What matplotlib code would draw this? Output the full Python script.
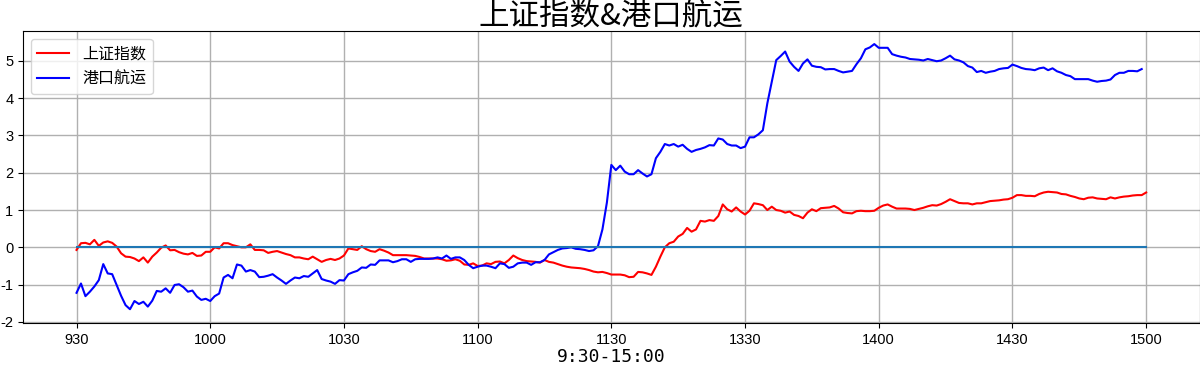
import numpy as np
import matplotlib
matplotlib.use("Agg")
import matplotlib.pyplot as plt

plt.rcParams['font.family'] = ['Noto Sans CJK SC', 'DejaVu Sans']
plt.rcParams['axes.unicode_minus'] = False

title = "上证指数&港口航运"
xlabel = "9:30-15:00"
series_names = ["上证指数", "港口航运"]
tick_labels = ["930", "1000", "1030", "1100", "1130", "1330", "1400", "1430", "1500"]

# 上证指数 (%), one value per minute, 241 points
sh_index = [
    -0.07, 0.11, 0.12, 0.08, 0.20, 0.04, 0.13, 0.16, 0.12, 0.02,
    -0.16, -0.25, -0.26, -0.30, -0.37, -0.27, -0.41, -0.25, -0.14, -0.01,
    0.05, -0.08, -0.07, -0.13, -0.17, -0.19, -0.15, -0.23, -0.22, -0.12,
    -0.12, 0.00, -0.03, 0.11, 0.11, 0.06, 0.03, 0.00, 0.00, 0.08,
    -0.07, -0.07, -0.08, -0.15, -0.12, -0.10, -0.14, -0.18, -0.21, -0.27,
    -0.27, -0.30, -0.32, -0.25, -0.32, -0.39, -0.34, -0.31, -0.34, -0.30,
    -0.22, -0.03, -0.05, -0.07, 0.03, -0.05, -0.10, -0.12, -0.05, -0.09,
    -0.14, -0.21, -0.21, -0.21, -0.21, -0.22, -0.23, -0.26, -0.30, -0.30,
    -0.30, -0.30, -0.32, -0.36, -0.35, -0.32, -0.36, -0.46, -0.47, -0.43,
    -0.50, -0.49, -0.43, -0.45, -0.39, -0.38, -0.43, -0.34, -0.22, -0.29,
    -0.34, -0.37, -0.38, -0.39, -0.41, -0.34, -0.39, -0.41, -0.45, -0.49,
    -0.52, -0.54, -0.55, -0.56, -0.58, -0.61, -0.65, -0.67, -0.66, -0.69,
    -0.73, -0.73, -0.73, -0.75, -0.80, -0.79, -0.66, -0.67, -0.70, -0.74,
    -0.52, -0.25, 0.00, 0.11, 0.15, 0.29, 0.36, 0.52, 0.42, 0.48,
    0.71, 0.69, 0.73, 0.71, 0.84, 1.15, 1.02, 0.96, 1.07, 0.96,
    0.88, 0.98, 1.18, 1.16, 1.13, 1.00, 1.09, 1.00, 0.98, 0.93,
    0.96, 0.87, 0.84, 0.78, 0.93, 1.02, 0.97, 1.05, 1.06, 1.07,
    1.11, 1.04, 0.94, 0.92, 0.91, 0.97, 0.98, 0.97, 0.97, 0.98,
    1.06, 1.12, 1.15, 1.09, 1.04, 1.04, 1.04, 1.03, 1.00, 1.03,
    1.06, 1.10, 1.13, 1.12, 1.16, 1.22, 1.29, 1.24, 1.19, 1.18,
    1.18, 1.15, 1.18, 1.18, 1.21, 1.24, 1.25, 1.26, 1.28, 1.29,
    1.33, 1.40, 1.40, 1.38, 1.38, 1.37, 1.43, 1.47, 1.49, 1.48,
    1.47, 1.43, 1.42, 1.38, 1.35, 1.31, 1.29, 1.33, 1.34, 1.31,
    1.30, 1.29, 1.34, 1.31, 1.34, 1.36, 1.37, 1.39, 1.40, 1.40,
    1.47,
]

# 港口航运 (%), 240 points
port_shipping = [
    -1.22, -0.97, -1.31, -1.19, -1.05, -0.88, -0.45, -0.70, -0.72, -1.01,
    -1.30, -1.55, -1.66, -1.44, -1.52, -1.46, -1.59, -1.43, -1.17, -1.19,
    -1.10, -1.22, -1.01, -0.99, -1.07, -1.19, -1.16, -1.32, -1.41, -1.38,
    -1.44, -1.31, -1.24, -0.81, -0.74, -0.83, -0.46, -0.49, -0.65, -0.61,
    -0.65, -0.80, -0.79, -0.76, -0.72, -0.81, -0.89, -0.98, -0.89, -0.81,
    -0.83, -0.77, -0.79, -0.70, -0.61, -0.85, -0.89, -0.92, -0.98, -0.88,
    -0.89, -0.72, -0.67, -0.63, -0.54, -0.55, -0.46, -0.47, -0.35, -0.35,
    -0.35, -0.40, -0.37, -0.32, -0.32, -0.39, -0.32, -0.31, -0.31, -0.31,
    -0.30, -0.27, -0.30, -0.22, -0.31, -0.27, -0.27, -0.34, -0.47, -0.56,
    -0.52, -0.49, -0.49, -0.52, -0.56, -0.43, -0.45, -0.55, -0.52, -0.43,
    -0.41, -0.41, -0.47, -0.40, -0.40, -0.34, -0.19, -0.13, -0.07, -0.03,
    -0.02, 0.00, -0.04, -0.05, -0.07, -0.10, -0.08, 0.03, 0.48, 1.20,
    2.21, 2.07, 2.19, 2.03, 1.96, 1.96, 2.07, 1.98, 1.90, 1.96,
    2.39, 2.56, 2.77, 2.73, 2.77, 2.70, 2.75, 2.64, 2.56, 2.61,
    2.64, 2.68, 2.74, 2.73, 2.92, 2.89, 2.77, 2.73, 2.73, 2.66,
    2.70, 2.95, 2.95, 3.03, 3.14, 3.86, 4.44, 5.02, 5.13, 5.25,
    4.98, 4.84, 4.73, 4.93, 5.04, 4.87, 4.84, 4.83, 4.77, 4.78,
    4.78, 4.73, 4.69, 4.71, 4.73, 4.91, 5.07, 5.31, 5.36, 5.45,
    5.35, 5.35, 5.35, 5.18, 5.14, 5.11, 5.09, 5.05, 5.04, 5.03,
    5.01, 5.05, 5.02, 4.99, 5.01, 5.07, 5.14, 5.04, 5.01, 4.96,
    4.86, 4.82, 4.70, 4.73, 4.68, 4.71, 4.73, 4.78, 4.80, 4.81,
    4.90, 4.86, 4.81, 4.78, 4.77, 4.75, 4.80, 4.82, 4.75, 4.80,
    4.72, 4.68, 4.62, 4.59, 4.51, 4.51, 4.51, 4.51, 4.47, 4.44,
    4.46, 4.47, 4.50, 4.62, 4.68, 4.68, 4.73, 4.73, 4.72, 4.78,
]

x_red = np.arange(len(sh_index))
x_blue = np.arange(len(port_shipping))

fig = plt.figure(figsize=(12, 3.65), dpi=100)
ax = fig.add_axes([0.0192, 0.115, 0.9805, 0.8])

ax.plot(x_red, sh_index, color='red', linewidth=1.5, label=series_names[0])
ax.plot(x_blue, port_shipping, color='blue', linewidth=1.5, label=series_names[1])
ax.plot(x_red, np.zeros(len(x_red)), color='#1f77b4', linewidth=1.5)

ax.set_xlim(-12, 252)
ax.set_ylim(-2.03, 5.8)
ax.set_xticks(np.arange(0, len(x_red), 30))
ax.set_xticklabels(tick_labels)
ax.set_yticks(np.arange(-2, 6, 1))
for lab in ax.get_xticklabels() + ax.get_yticklabels():
    lab.set_family(['Liberation Sans', 'DejaVu Sans'])
    lab.set_fontsize(10.5)
ax.grid(True, color='#b0b0b0', linewidth=1.0)

ax.set_title(title, fontsize=22, pad=1)
ax.set_xlabel(xlabel, fontsize=13, family=['DejaVu Sans Mono'], labelpad=1)
ax.legend(loc='upper left', fontsize=11.5)

fig.savefig("out.png", dpi=100)
